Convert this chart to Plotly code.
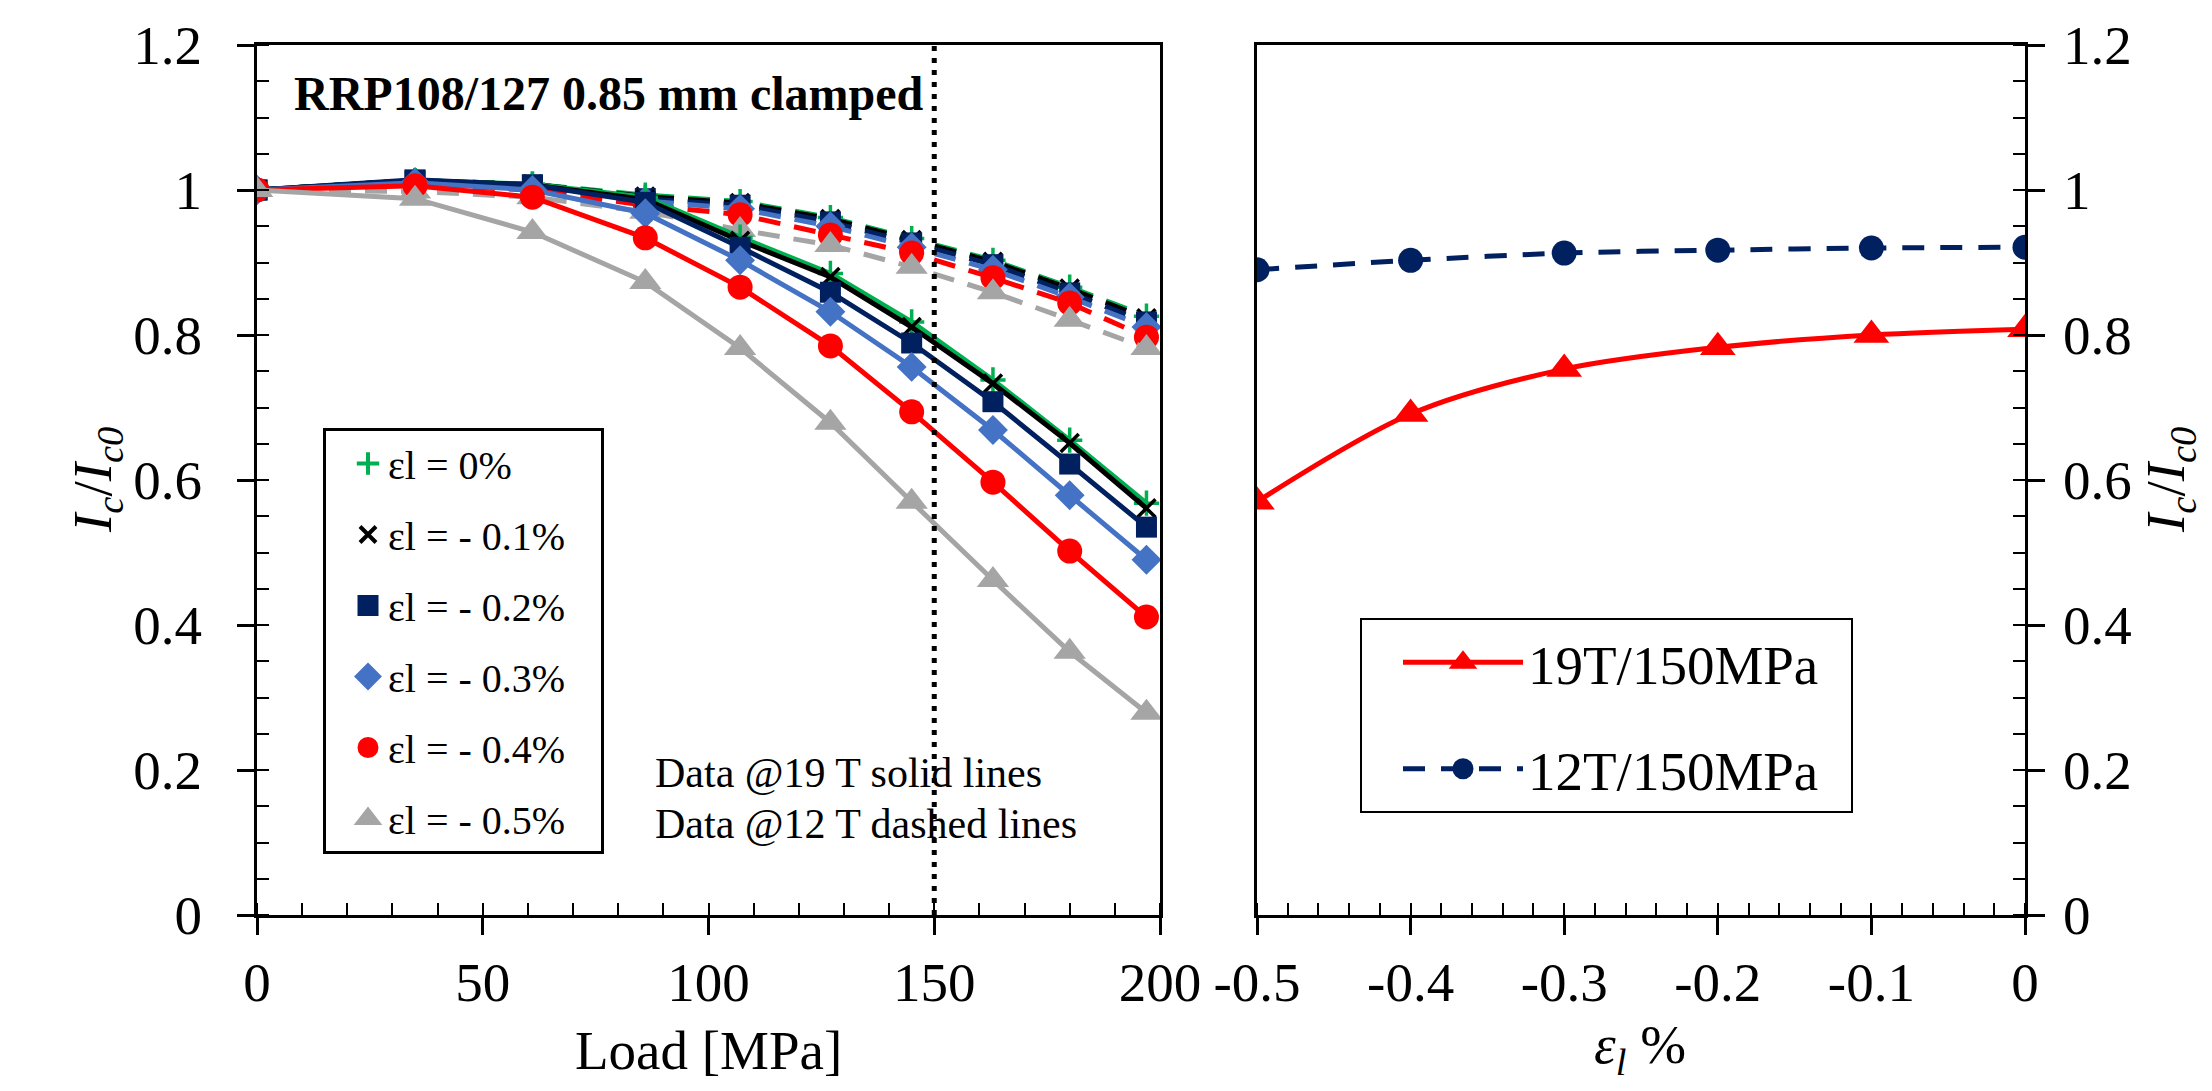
import plotly.graph_objects as go

# The page body has an 8px default margin, so the figure is drawn 8px in from the
# window corner; target positions below are given in window pixels.
OFF = 8
W, H = 2212 - 2 * OFF, 1091 - 2 * OFF
FONT = "Liberation Serif"

# ---------------- data ----------------
load_mpa = [0, 35, 61, 86, 107, 127, 145, 163, 180, 197]
strain_labels = ["εl = 0%", "εl = - 0.1%", "εl = - 0.2%", "εl = - 0.3%", "εl = - 0.4%", "εl = - 0.5%"]

# 19 T (solid lines)
s19_0 = [1.0, 1.013, 1.008, 0.990, 0.935, 0.885, 0.818, 0.738, 0.655, 0.568]
s19_1 = [1.0, 1.013, 1.007, 0.987, 0.930, 0.880, 0.811, 0.733, 0.651, 0.561]
s19_2 = [1.0, 1.014, 1.007, 0.983, 0.921, 0.859, 0.789, 0.708, 0.622, 0.535]
s19_3 = [1.0, 1.010, 1.000, 0.968, 0.903, 0.832, 0.756, 0.669, 0.579, 0.490]
s19_4 = [1.0, 1.006, 0.990, 0.934, 0.866, 0.785, 0.694, 0.597, 0.502, 0.411]
s19_5 = [1.0, 0.988, 0.942, 0.873, 0.782, 0.679, 0.570, 0.462, 0.363, 0.279]

# 12 T (dashed lines)
s12_0 = [1.0, 1.013, 1.008, 0.993, 0.984, 0.962, 0.933, 0.903, 0.866, 0.826]
s12_1 = [1.0, 1.013, 1.008, 0.991, 0.982, 0.960, 0.931, 0.901, 0.864, 0.823]
s12_2 = [1.0, 1.013, 1.007, 0.988, 0.979, 0.956, 0.927, 0.897, 0.858, 0.818]
s12_3 = [1.0, 1.011, 1.004, 0.985, 0.974, 0.950, 0.921, 0.890, 0.852, 0.811]
s12_4 = [1.0, 1.007, 1.000, 0.979, 0.966, 0.938, 0.913, 0.879, 0.844, 0.797]
s12_5 = [1.0, 0.998, 0.990, 0.970, 0.945, 0.924, 0.894, 0.859, 0.821, 0.782]

# right panel
eps_l = [-0.5, -0.4, -0.3, -0.2, -0.1, 0.0]
r19 = [0.570, 0.691, 0.753, 0.783, 0.800, 0.808]
r12 = [0.890, 0.903, 0.913, 0.917, 0.920, 0.921]
right_names = ["19T/150MPa", "12T/150MPa"]

left_xticks = [0, 50, 100, 150, 200]
right_xticks = [-0.5, -0.4, -0.3, -0.2, -0.1, 0]
right_xticktext = ["-0.5", "-0.4", "-0.3", "-0.2", "-0.1", "0"]

# ---------------- styles ----------------
colors = ["#00B050", "#000000", "#002060", "#4472C4", "#FF0000", "#A5A5A5"]
symbols = ["cross-thin", "x-thin", "square", "diamond", "circle", "triangle-up"]
msizes = [18, 18, 21, 23, 25, 28]

s19 = [s19_0, s19_1, s19_2, s19_3, s19_4, s19_5]
s12 = [s12_0, s12_1, s12_2, s12_3, s12_4, s12_5]

NBSP = "\u00a0"


def marker(i, size, outline=0):
    if symbols[i] in ("cross-thin", "x-thin"):
        return dict(symbol=symbols[i], size=size, color=colors[i],
                    line=dict(color=colors[i], width=3.5 if outline == 0 else 4))
    return dict(symbol=symbols[i], size=size, color=colors[i],
                line=dict(color=colors[i], width=outline))


fig = go.Figure()

# dashed 12 T first (underneath)
for i in range(6):
    fig.add_trace(go.Scatter(x=load_mpa, y=s12[i], mode="lines+markers",
                             line=dict(color=colors[i], width=5, dash="22px,14px"),
                             marker=marker(i, msizes[i]), showlegend=False,
                             xaxis="x", yaxis="y"))
for i in range(6):
    fig.add_trace(go.Scatter(x=load_mpa, y=s19[i], mode="lines+markers",
                             line=dict(color=colors[i], width=5),
                             marker=marker(i, msizes[i]), showlegend=False,
                             xaxis="x", yaxis="y"))
# legend entries (markers only)
for i in range(6):
    fig.add_trace(go.Scatter(x=[None], y=[None], mode="markers",
                             name=strain_labels[i] + NBSP * 3,
                             marker=marker(i, 30, outline=5), legend="legend",
                             legendgroup="g%d" % i, xaxis="x", yaxis="y"))

# right panel
r19_line = dict(color="#FF0000", width=5, shape="spline", smoothing=0.9)
r12_line = dict(color="#002060", width=5, dash="22px,16px", shape="spline", smoothing=0.9)
fig.add_trace(go.Scatter(x=eps_l, y=r19, mode="lines+markers", showlegend=False,
                         line=r19_line,
                         marker=dict(symbol="triangle-up", size=31, color="#FF0000"),
                         xaxis="x2", yaxis="y2"))
fig.add_trace(go.Scatter(x=eps_l, y=r12, mode="lines+markers", showlegend=False,
                         line=r12_line,
                         marker=dict(symbol="circle", size=25, color="#002060"),
                         xaxis="x2", yaxis="y2"))
# legend entries for right panel (bigger symbols via outline)
fig.add_trace(go.Scatter(x=[None], y=[None], mode="lines+markers", name=right_names[0] + NBSP * 2,
                         line=r19_line,
                         marker=dict(symbol="triangle-up", size=30, color="#FF0000",
                                     line=dict(color="#FF0000", width=5)),
                         legend="legend2", legendgroup="r0", xaxis="x2", yaxis="y2"))
fig.add_trace(go.Scatter(x=[None], y=[None], mode="lines+markers", name=right_names[1] + NBSP * 2,
                         line=r12_line,
                         marker=dict(symbol="circle", size=30, color="#002060",
                                     line=dict(color="#002060", width=5)),
                         legend="legend2", legendgroup="r1", xaxis="x2", yaxis="y2"))


# ---------------- layout ----------------
def px_x(p):
    return (p - OFF) / W


def px_y(p):
    return 1 - (p - OFF) / H


xl_dom = [px_x(257), px_x(1160)]
xr_dom = [px_x(1257), px_x(2025)]
y_dom = [px_y(915), px_y(45)]

tickfont = dict(family=FONT, size=55, color="black")
common = dict(showgrid=False, zeroline=False, linecolor="black", linewidth=3,
              ticks="outside", ticklen=17, tickwidth=3, tickcolor="black",
              tickfont=tickfont, mirror=True, showline=True, automargin=False)
minor_x = dict(ticks="inside", ticklen=12, tickwidth=2, tickcolor="black")
inner = dict(ticks="inside", ticklen=17, tickwidth=3, tickcolor="black",
             showticklabels=False, showgrid=False, zeroline=False, showline=False)

fig.update_layout(
    width=W, height=H, margin=dict(l=0, r=0, t=0, b=0, autoexpand=False),
    paper_bgcolor="white", plot_bgcolor="white",
    font=dict(family=FONT, color="black"),
    xaxis=dict(domain=xl_dom, range=[0, 200], anchor="y", tickvals=left_xticks,
               minor=dict(dtick=10, tick0=0, **minor_x),
               ticklabelstandoff=0, **common),
    yaxis=dict(domain=y_dom, range=[0, 1.2], anchor="x", dtick=0.2, tick0=0,
               minor=dict(dtick=0.05, tick0=0, **minor_x),
               ticklabelstandoff=24, **common),
    xaxis2=dict(domain=xr_dom, range=[-0.5, 0], anchor="y2", tickvals=right_xticks,
                ticktext=right_xticktext,
                minor=dict(dtick=0.02, tick0=0, **minor_x),
                ticklabelstandoff=0, **common),
    yaxis2=dict(domain=y_dom, range=[0, 1.2], anchor="x2", side="right", dtick=0.2, tick0=0,
                minor=dict(dtick=0.05, tick0=0, **minor_x),
                ticklabelstandoff=7, **common),
    # overlay axes: inner half of crossing major ticks
    xaxis3=dict(overlaying="x", anchor="y", range=[0, 200], tickvals=left_xticks, **inner),
    yaxis3=dict(overlaying="y", anchor="x", range=[0, 1.2], dtick=0.2, tick0=0, **inner),
    xaxis4=dict(overlaying="x2", anchor="y2", range=[-0.5, 0], tickvals=right_xticks, **inner),
    yaxis4=dict(overlaying="y2", anchor="x2", side="right", range=[0, 1.2], dtick=0.2, tick0=0, **inner),
    legend=dict(x=px_x(323), y=px_y(428), xanchor="left", yanchor="top",
                bordercolor="black", borderwidth=3, bgcolor="white",
                font=dict(family=FONT, size=40, color="black"),
                tracegroupgap=16, traceorder="grouped", indentation=22),
    legend2=dict(x=px_x(1360), y=px_y(618), xanchor="left", yanchor="top",
                 bordercolor="black", borderwidth=2, bgcolor="white",
                 font=dict(family=FONT, size=55, color="black"),
                 itemwidth=120, tracegroupgap=32, traceorder="grouped", indentation=36),
    showlegend=True,
)

# dotted vertical line at 150 MPa
fig.add_shape(type="line", xref="x", yref="y", x0=150, x1=150, y0=0, y1=1.2,
              line=dict(color="black", width=5, dash="5px,7px"))

ann = []
ann.append(dict(text="<b>RRP108/127 0.85 mm clamped</b>", xref="paper", yref="paper",
                x=px_x(292), y=px_y(94), xanchor="left", yanchor="middle", showarrow=False,
                font=dict(family=FONT, size=48, color="black")))
ann.append(dict(text="Data @19 T solid lines", xref="paper", yref="paper",
                x=px_x(653), y=px_y(773), xanchor="left", yanchor="middle", showarrow=False,
                font=dict(family=FONT, size=42, color="black")))
ann.append(dict(text="Data @12 T dashed lines", xref="paper", yref="paper",
                x=px_x(653), y=px_y(824), xanchor="left", yanchor="middle", showarrow=False,
                font=dict(family=FONT, size=42, color="black")))
# axis titles
ann.append(dict(text="Load [MPa]", xref="paper", yref="paper",
                x=px_x(708), y=px_y(1050), xanchor="center", yanchor="middle", showarrow=False,
                font=dict(family=FONT, size=55, color="black")))
ann.append(dict(text="<i>ε<sub>l</sub></i> %", xref="paper", yref="paper",
                x=px_x(1640), y=px_y(1048), xanchor="center", yanchor="middle", showarrow=False,
                font=dict(family=FONT, size=55, color="black")))
ytitle = "<i>I<sub>c</sub></i>/<i>I<sub>c0</sub></i>"
ann.append(dict(text=ytitle, xref="paper", yref="paper", textangle=-90,
                x=px_x(97), y=px_y(480), xanchor="center", yanchor="middle", showarrow=False,
                font=dict(family=FONT, size=55, color="black")))
ann.append(dict(text=ytitle, xref="paper", yref="paper", textangle=-90,
                x=px_x(2170), y=px_y(480), xanchor="center", yanchor="middle", showarrow=False,
                font=dict(family=FONT, size=55, color="black")))
fig.update_layout(annotations=ann)

fig.write_html("out.html")
